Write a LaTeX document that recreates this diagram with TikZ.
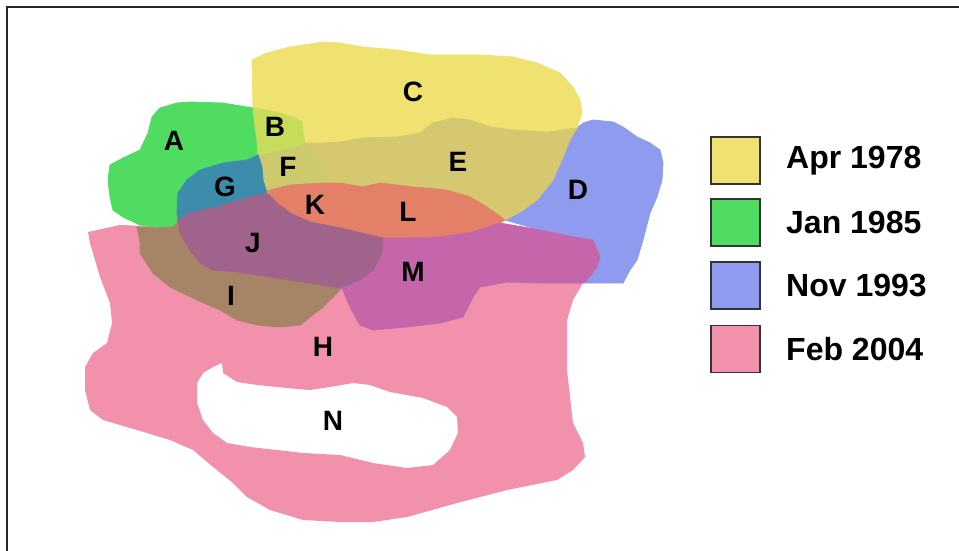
\documentclass[tikz,border=0pt]{standalone}
\usepackage{fontspec}
\setmainfont{Liberation Sans}
\usepackage{tikz}

\definecolor{aprC}{RGB}{239,226,112}
\definecolor{janA}{RGB}{80,220,96}
\definecolor{novD}{RGB}{142,155,238}
\definecolor{febH}{RGB}{242,145,172}
\definecolor{mixB}{RGB}{200,220,92}
\definecolor{mixE}{RGB}{214,200,112}
\definecolor{mixF}{RGB}{204,202,108}
\definecolor{mixG}{RGB}{60,140,172}
\definecolor{mixKL}{RGB}{228,128,104}
\definecolor{mixJ}{RGB}{160,100,140}
\definecolor{mixI}{RGB}{168,132,102}
\definecolor{mixM}{RGB}{198,102,170}

\begin{document}
\begin{tikzpicture}[x=1pt, y=-1pt,
    patch/.style={fill=#1, draw=#1, line width=0.8pt, line join=round},
    lbl/.style={font=\fontsize{28}{30}\selectfont\bfseries, inner sep=0pt},
    keybox/.style={draw=black!80, line width=1.2pt, minimum width=49pt, minimum height=47pt, inner sep=0pt},
    keytext/.style={font=\fontsize{32}{34}\selectfont\bfseries, anchor=west, inner sep=0pt}]

    \useasboundingbox (0,0) rectangle (959,551);
    \clip (0,0) rectangle (959,551);
    \fill[white] (0,0) rectangle (959,551);
    \draw[line width=2pt, black!85] (7,7) rectangle (975,575);

    % Feb 2004 with the hole N
    \fill[febH, even odd rule]
        (88,232) -- (120,225) -- (200,228) -- (300,235) -- (400,240) -- (560,240) -- (590,260)
        -- (583,283) -- (573,300) -- (567,320) -- (567,343) -- (567,370) -- (570,397) -- (573,423)
        -- (583,443) -- (585,457) -- (573,470) -- (557,480) -- (507,490) -- (457,503) -- (407,517)
        -- (373,522) -- (340,522) -- (303,520) -- (270,510) -- (247,497) -- (233,483) -- (213,467)
        -- (193,450) -- (170,440) -- (137,430) -- (103,420) -- (90,410) -- (85,390) -- (85,367)
        -- (93,353) -- (107,343) -- (112,323) -- (110,303) -- (100,277) -- (90,243) -- cycle
        (222,363) -- (223,373) -- (237,382) -- (257,385) -- (287,388) -- (310,390) -- (330,387)
        -- (353,383) -- (370,385) -- (390,392) -- (423,398) -- (447,407) -- (457,417) -- (458,433)
        -- (450,450) -- (433,465) -- (407,468) -- (373,463) -- (340,455) -- (303,453) -- (277,450)
        -- (250,447) -- (227,443) -- (213,433) -- (203,420) -- (197,403) -- (197,383) -- (203,373)
        -- (213,367) -- cycle;

    % Nov 1993
    \filldraw[patch=novD] (577,128) -- (583,123) -- (593,120) -- (613,122) -- (623,127) -- (637,137)
        -- (650,143) -- (660,150) -- (663,163) -- (662,180) -- (657,197) -- (650,213) -- (643,240)
        -- (637,260) -- (630,270) -- (623,283) -- (583,283) -- (587,280) -- (597,267) -- (600,257)
        -- (593,240) -- (573,237) -- (540,230) -- (505,220) -- (520,212) -- (537,200) -- (553,180)
        -- (563,157) -- (570,140) -- cycle;

    % Apr 1978
    \filldraw[patch=aprC] (252,60) -- (267,53) -- (290,47) -- (323,42) -- (340,43) -- (363,47)
        -- (397,50) -- (430,55) -- (480,55) -- (513,57) -- (537,63) -- (560,73) -- (573,87)
        -- (580,100) -- (582,113) -- (577,128) -- (547,132) -- (513,130) -- (490,127) -- (470,120)
        -- (453,118) -- (433,123) -- (420,133) -- (397,137) -- (363,138) -- (340,142) -- (323,143)
        -- (305,143) -- (303,133) -- (302,122) -- (293,117) -- (277,112) -- (253,108) -- cycle;

    % Jan 1985
    \filldraw[patch=janA] (253,108) -- (247,107) -- (223,103) -- (190,102) -- (177,103) -- (160,108)
        -- (152,117) -- (148,133) -- (140,150) -- (123,158) -- (110,165) -- (108,180) -- (110,197)
        -- (113,210) -- (123,217) -- (140,225) -- (157,227) -- (173,227) -- (178,222) -- (177,213)
        -- (178,193) -- (187,180) -- (200,170) -- (223,163) -- (247,160) -- (258,155) -- (257,140)
        -- (255,127) -- cycle;

    \filldraw[patch=mixE] (303,143) -- (323,143) -- (340,142) -- (363,138) -- (397,137) -- (420,133)
        -- (433,123) -- (453,118) -- (470,120) -- (490,127) -- (513,130) -- (547,132) -- (577,128)
        -- (570,140) -- (563,157) -- (553,180) -- (537,200) -- (520,212) -- (505,220) -- (487,207)
        -- (470,197) -- (447,190) -- (413,187) -- (380,183) -- (363,187) -- (340,183) -- (323,183)
        -- (300,185) -- cycle;

    \filldraw[patch=mixB] (253,108) -- (277,112) -- (293,117) -- (302,122) -- (303,133) -- (305,143)
        -- (297,147) -- (277,152) -- (258,155) -- (257,140) -- (255,127) -- cycle;

    \filldraw[patch=mixF] (258,155) -- (277,152) -- (297,147) -- (307,143) -- (316,158) -- (323,173)
        -- (330,183) -- (323,183) -- (290,185) -- (267,191) -- (263,180) -- (262,167) -- cycle;

    \filldraw[patch=mixG] (258,155) -- (247,160) -- (223,163) -- (200,170) -- (187,180) -- (178,193)
        -- (177,213) -- (178,221) -- (190,213) -- (217,207) -- (240,200) -- (267,193) -- (263,180)
        -- (262,167) -- cycle;

    \filldraw[patch=mixKL] (267,191) -- (290,185) -- (323,183) -- (340,183) -- (363,187) -- (380,183)
        -- (413,187) -- (447,190) -- (470,197) -- (487,207) -- (505,220) -- (500,223) -- (473,232)
        -- (440,237) -- (407,238) -- (383,238) -- (340,228) -- (310,222) -- (290,213) -- (277,203)
        -- cycle;

    \filldraw[patch=mixM] (383,238) -- (407,238) -- (440,237) -- (473,232) -- (500,223) -- (540,230)
        -- (573,237) -- (593,240) -- (600,257) -- (597,267) -- (587,280) -- (583,283) -- (540,283)
        -- (507,282) -- (480,287) -- (473,297) -- (463,317) -- (440,323) -- (407,327) -- (373,330)
        -- (360,325) -- (350,307) -- (343,290) -- (340,288) -- (360,280) -- (373,270) -- (382,253)
        -- cycle;

    \filldraw[patch=mixI] (137,227) -- (157,228) -- (173,227) -- (178,222) -- (180,233) -- (190,250)
        -- (200,263) -- (213,270) -- (237,272) -- (270,277) -- (303,282) -- (337,287) -- (340,290)
        -- (323,307) -- (310,317) -- (300,325) -- (280,327) -- (257,325) -- (237,320) -- (220,310)
        -- (197,300) -- (170,287) -- (153,273) -- (140,253) -- (140,243) -- cycle;

    \filldraw[patch=mixJ] (178,220) -- (190,213) -- (217,207) -- (240,200) -- (267,193) -- (277,203)
        -- (290,213) -- (310,222) -- (340,228) -- (383,238) -- (382,253) -- (373,270) -- (360,280)
        -- (340,288) -- (303,282) -- (270,277) -- (237,272) -- (213,270) -- (200,263) -- (190,250)
        -- (180,233) -- cycle;

    % letters
    \node[lbl] (A) at (174,141) {A};
    \node[lbl] (B) at (275,127) {B};
    \node[lbl] (C) at (413,92) {C};
    \node[lbl] (D) at (578,190) {D};
    \node[lbl] (E) at (458,162) {E};
    \node[lbl] (F) at (288,167) {F};
    \node[lbl] (G) at (225,187) {G};
    \node[lbl] (H) at (323,347) {H};
    \node[lbl] (I) at (231,296) {I};
    \node[lbl] (J) at (253,243) {J};
    \node[lbl] (K) at (315,205) {K};
    \node[lbl] (L) at (408,212) {L};
    \node[lbl] (M) at (413,272) {M};
    \node[lbl] (N) at (333,421) {N};

    % legend
    \node[keybox, fill=aprC] (k1) at (735.5,160.5) {};
    \node[keybox, fill=janA] (k2) at (735.5,222.5) {};
    \node[keybox, fill=novD] (k3) at (735.5,285.5) {};
    \node[keybox, fill=febH] (k4) at (735.5,349) {};
    \node[keytext] (t1) at (786,160.5) {Apr 1978};
    \node[keytext] (t2) at (786,222.5) {Jan 1985};
    \node[keytext] (t3) at (786,285.5) {Nov 1993};
    \node[keytext] (t4) at (786,349) {Feb 2004};
\end{tikzpicture}
\end{document}
